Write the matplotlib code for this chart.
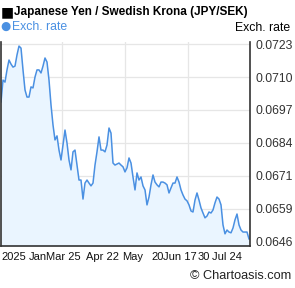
import numpy as np
import matplotlib
matplotlib.use('Agg')
import matplotlib.pyplot as plt

# ===== data (JPY/SEK) =====
rate = [
    0.07002, 0.07088, 0.07080, 0.07128, 0.07167, 0.07151, 0.07139, 0.07143, 0.07187, 0.07222,
    0.07214, 0.07128, 0.07049, 0.07021, 0.07021, 0.07061, 0.07057, 0.07100, 0.07128, 0.07128,
    0.07116, 0.07143, 0.07175, 0.07159, 0.07088, 0.06990, 0.06911, 0.06852, 0.06868, 0.06812,
    0.06773, 0.06832, 0.06891, 0.06840, 0.06773, 0.06734, 0.06805, 0.06812, 0.06753, 0.06694,
    0.06694, 0.06619, 0.06682, 0.06694, 0.06682, 0.06671, 0.06682, 0.06753, 0.06805, 0.06864,
    0.06812, 0.06812, 0.06805, 0.06832, 0.06899, 0.06879, 0.06761, 0.06753, 0.06757, 0.06761,
    0.06753, 0.06746, 0.06726, 0.06742, 0.06781, 0.06761, 0.06706, 0.06655, 0.06722, 0.06694,
    0.06706, 0.06671, 0.06655, 0.06596, 0.06627, 0.06675, 0.06714, 0.06686, 0.06675, 0.06667,
    0.06686, 0.06686, 0.06682, 0.06675, 0.06643, 0.06663, 0.06682, 0.06682, 0.06706, 0.06686,
    0.06655, 0.06635, 0.06619, 0.06612, 0.06596, 0.06572, 0.06568, 0.06615, 0.06643, 0.06615,
    0.06584, 0.06564, 0.06545, 0.06552, 0.06568, 0.06564, 0.06576, 0.06604, 0.06627, 0.06619,
    0.06596, 0.06517, 0.06482, 0.06497, 0.06489, 0.06486, 0.06505, 0.06537, 0.06560, 0.06517,
    0.06497, 0.06489, 0.06489, 0.06489, 0.06462,
]
y_ticks = [0.0723, 0.0710, 0.0697, 0.0684, 0.0671, 0.0658, 0.0645]
y_labels = ['0.0723', '0.0710', '0.0697', '0.0684', '0.0671', '0.0659', '0.0646']
x_grid = [30.5, 62.0, 93.5]
# bottom date labels as they appear, with left pixel position
x_label_text = ['2025', 'Jan', 'Mar 25', 'Apr 22', 'May', '20', 'Jun 17', '30', 'Jul 24']
x_label_px = [1, 29, 46, 86, 122, 151, 163, 198, 212]

W, H = 295, 288
LINE = '#4a90e2'
FILL = '#eaf5ff'
FONT = ['Liberation Sans', 'DejaVu Sans']
plt.rcParams['font.family'] = FONT

fig = plt.figure(figsize=(W / 100, H / 100), dpi=100)
ax = fig.add_axes([1 / W, 1 - 246 / H, 249 / W, 204 / H])

x = np.arange(len(rate))
ax.fill_between(x, rate, 0.06434, color=FILL, lw=0)
ax.plot(x, rate, color=LINE, lw=1.1)

ax.set_xlim(0, 124.5)
ax.set_ylim(0.06434, 0.07238)
ax.set_xticks(x_grid)
ax.set_xticklabels([])
ax.set_yticks(y_ticks)
ax.set_yticklabels(y_labels)
ax.yaxis.tick_right()
ax.tick_params(axis='both', length=0)
ax.tick_params(axis='y', pad=4, labelsize=8.8, labelcolor='#333333')
ax.grid(True, color='#e6e6e6', lw=0.9)
ax.set_axisbelow(True)
for s in ['left', 'right', 'bottom']:
    ax.spines[s].set_color('#333333')
    ax.spines[s].set_linewidth(1.2)
ax.spines['top'].set_visible(False)

# header
fig.text(0.5 / W, 1 - 12 / H, '\u25A0', fontsize=10, family='DejaVu Sans', va='center', ha='left')
fig.text(14 / W, 1 - 12 / H, 'Japanese Yen / Swedish Krona (JPY/SEK)', fontsize=8.5,
         fontweight='bold', va='center', ha='left')
fig.text(0 / W, 1 - 26.5 / H, '\u25CF', fontsize=8.5, family='DejaVu Sans', color=LINE,
         va='center', ha='left')
fig.text(12 / W, 1 - 26.5 / H, 'Exch. rate', fontsize=8.8, color=LINE, va='center', ha='left')
fig.text(290 / W, 1 - 28 / H, 'Exch. rate', fontsize=8.8, va='center', ha='right')

for t, px in zip(x_label_text, x_label_px):
    fig.text(px / W, 1 - 257 / H, t, fontsize=8.0, va='center', ha='left', color='#111111')

fig.text(291 / W, 1 - 276 / H, '\u00A9 Chartoasis.com', fontsize=9.2, va='center', ha='right',
         color='#222222')

fig.savefig('out.png', dpi=100)
